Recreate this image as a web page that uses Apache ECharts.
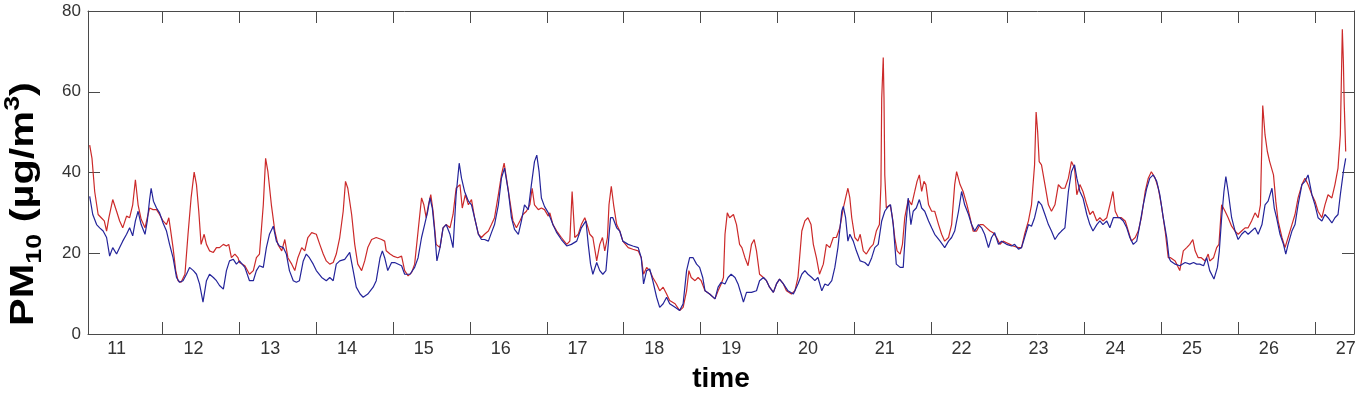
<!DOCTYPE html>
<html>
<head>
<meta charset="utf-8">
<title>PM10 time series</title>
<script src="https://cdn.jsdelivr.net/npm/echarts@6/dist/echarts.min.js"></script>
<style>
  html, body { margin: 0; padding: 0; background: #fff; }
  #chart { width: 1362px; height: 398px; }
</style>
</head>
<body>
<div id="chart"></div>
<script>
// x axis: day of month, labels on the day, tick marks a bit later in the day
var dayLabels = [11, 12, 13, 14, 15, 16, 17, 18, 19, 20, 21, 22, 23, 24, 25, 26, 27]
var dayTicks = [11.6, 12.6, 13.6, 14.6, 15.6, 16.6, 17.6, 18.6, 19.6, 20.6, 21.6, 22.6, 23.6, 24.6, 25.6, 26.6]
var pmTicks = [0, 20, 40, 60, 80]

// red series
var redTime = [
  10.65, 10.68, 10.715, 10.76, 10.80, 10.84, 10.87, 10.90, 10.95, 11.00, 11.04, 11.08, 11.13, 11.17, 11.21, 11.245, 11.28, 11.32, 11.37, 11.40, 11.43, 11.475, 11.52, 11.56, 11.605, 11.65, 11.68, 11.705, 11.735, 11.77, 11.80, 11.84, 11.89, 11.93, 11.97, 12.01, 12.04, 12.07, 12.10, 12.14, 12.17, 12.21, 12.26, 12.30, 12.34, 12.39, 12.43, 12.46, 12.495, 12.54, 12.58,
  12.60, 12.67, 12.73, 12.78, 12.82, 12.86, 12.91, 12.94, 12.97, 13.015, 13.06, 13.10, 13.15, 13.19, 13.23, 13.28, 13.32, 13.36, 13.41, 13.45, 13.49, 13.54, 13.60, 13.645, 13.69, 13.73, 13.775, 13.82, 13.86, 13.905, 13.95, 13.98, 14.01, 14.06, 14.10, 14.14, 14.19, 14.23, 14.27, 14.32, 14.38, 14.45, 14.49, 14.51, 14.56, 14.60,
  14.62, 14.66, 14.71, 14.75, 14.795, 14.84, 14.88, 14.925, 14.97, 15.00, 15.03, 15.06, 15.09, 15.12, 15.16, 15.21, 15.25, 15.29, 15.34, 15.38, 15.42, 15.47, 15.50, 15.54, 15.58, 15.62, 15.66, 15.71, 15.75, 15.79, 15.84, 15.88, 15.92, 15.97, 16.01, 16.045, 16.075, 16.12, 16.16, 16.205, 16.25, 16.29, 16.335, 16.38, 16.41, 16.44, 16.49, 16.53, 16.57, 16.62,
  16.64, 16.68, 16.73, 16.79, 16.86, 16.90, 16.93, 16.965, 17.01, 17.05, 17.095, 17.125, 17.16, 17.20, 17.25, 17.29, 17.325, 17.355, 17.39, 17.41, 17.44, 17.47, 17.51, 17.55, 17.59, 17.66, 17.72, 17.79, 17.83, 17.86, 17.90, 17.94, 17.98, 18.03, 18.07, 18.115, 18.16, 18.20, 18.27, 18.33, 18.375, 18.42, 18.45, 18.48, 18.53, 18.57, 18.61,
  18.66, 18.72, 18.79, 18.83, 18.87, 18.90, 18.92, 18.95, 18.98, 19.03, 19.07, 19.11, 19.14, 19.18, 19.22, 19.265, 19.30, 19.33, 19.37, 19.42, 19.46, 19.50, 19.55, 19.59, 19.63, 19.68, 19.72, 19.785, 19.83, 19.87, 19.92, 19.96, 20.00, 20.04, 20.07, 20.11, 20.15, 20.20, 20.24, 20.285, 20.33, 20.37, 20.415, 20.46, 20.50, 20.52, 20.545, 20.57, 20.61, 20.65,
  20.68, 20.72, 20.76, 20.81, 20.85, 20.89, 20.93, 20.95, 20.96, 20.98, 20.99, 21.00, 21.02, 21.07, 21.10, 21.13, 21.16, 21.20, 21.23, 21.26, 21.305, 21.35, 21.39, 21.42, 21.45, 21.48, 21.51, 21.535, 21.57, 21.61, 21.65, 21.70, 21.74, 21.78, 21.83, 21.87, 21.91, 21.935, 21.98, 22.02, 22.07, 22.11, 22.15, 22.195, 22.24, 22.28, 22.325, 22.37, 22.41, 22.455, 22.50, 22.54, 22.586, 22.63, 22.67,
  22.69, 22.74, 22.78, 22.82, 22.87, 22.91, 22.95, 22.97, 22.99, 23.01, 23.04, 23.085, 23.13, 23.17, 23.215, 23.26, 23.30, 23.345, 23.39, 23.43, 23.47, 23.50, 23.54, 23.58, 23.63, 23.67, 23.71, 23.76, 23.80, 23.84, 23.89, 23.93, 23.97, 24.00, 24.04, 24.08, 24.13, 24.17, 24.21, 24.26, 24.30, 24.34, 24.39, 24.43, 24.47, 24.52, 24.56, 24.60, 24.65, 24.69,
  24.72, 24.78, 24.84, 24.886, 24.93, 24.97, 25.01, 25.04, 25.08, 25.12, 25.17, 25.21, 25.23, 25.28, 25.32, 25.35, 25.385, 25.43, 25.47, 25.515, 25.56, 25.60, 25.645, 25.69, 25.73, 25.775, 25.82, 25.86, 25.89, 25.92, 25.95, 25.98, 26.01, 26.06, 26.09, 26.12, 26.17, 26.21, 26.25, 26.30, 26.34, 26.38, 26.43, 26.47, 26.51, 26.56, 26.60, 26.64, 26.69, 26.73, 26.77, 26.82, 26.86, 26.90, 26.93, 26.956, 26.97, 26.98, 27.00
]
var redPM10 = [
  46.8, 43.5, 35.3, 29.6, 28.8, 28.0, 25.5, 28.8, 33.3, 30.4, 28.0, 26.3, 29.2, 28.8, 32.0, 38.2, 32.0, 28.4, 26.3, 28.8, 31.2, 30.8, 30.8, 29.6, 28.0, 27.1, 28.8, 25.5, 21.4, 15.7, 13.2, 12.8, 14.8, 24.7, 33.7, 40.1, 37.0, 30.4, 22.2, 24.7, 22.2, 20.6, 20.2, 21.4, 21.4, 22.2, 21.8, 22.2, 18.9, 19.8, 18.9,
  17.7, 16.9, 14.8, 15.7, 18.9, 19.8, 32.0, 43.5, 40.2, 32.0, 25.5, 22.2, 20.6, 23.4, 18.9, 17.3, 15.7, 18.9, 21.4, 20.6, 23.9, 25.1, 24.7, 22.2, 19.8, 18.1, 17.3, 17.7, 19.8, 23.9, 30.4, 37.8, 36.1, 29.6, 22.2, 17.3, 15.7, 18.1, 21.4, 23.4, 23.9, 23.4, 23.0, 20.6, 19.8, 19.3,
  19.3, 18.9, 19.3, 15.7, 14.4, 15.2, 17.3, 25.5, 33.7, 32.0, 28.8, 32.0, 34.5, 30.4, 22.2, 21.4, 26.3, 27.1, 26.3, 29.6, 36.1, 37.0, 31.2, 34.5, 32.0, 33.3, 28.8, 24.7, 23.9, 24.7, 25.5, 27.1, 28.8, 34.5, 39.4, 42.3, 38.6, 32.9, 28.0, 26.3, 28.0, 29.6, 30.4, 32.0, 36.1, 32.0, 30.8, 31.2, 30.8, 29.2,
  30.0, 27.1, 25.5, 23.9, 22.2, 23.0, 35.3, 23.9, 24.7, 27.1, 28.8, 27.1, 24.7, 23.9, 18.1, 22.2, 23.9, 20.6, 23.9, 32.0, 36.6, 32.0, 27.1, 25.5, 23.0, 21.4, 21.0, 20.6, 18.9, 14.8, 16.5, 15.7, 14.0, 12.4, 10.7, 11.6, 9.9, 8.3, 7.5, 5.8, 6.6, 10.7, 15.7, 14.0, 13.2, 14.0, 13.2,
  10.7, 9.9, 8.7, 10.7, 12.4, 14.0, 24.7, 30.0, 28.8, 29.6, 27.1, 22.2, 21.4, 18.9, 16.9, 22.2, 23.4, 20.6, 14.8, 14.0, 13.2, 11.6, 10.3, 12.4, 13.6, 12.4, 10.7, 9.9, 10.7, 14.0, 25.5, 28.0, 28.8, 27.1, 22.2, 18.9, 14.8, 17.3, 22.2, 21.4, 23.9, 23.9, 26.3, 31.2, 34.5, 36.1, 33.7, 28.8, 23.9, 23.0,
  24.7, 20.6, 19.8, 21.4, 22.2, 25.5, 27.1, 37.0, 58.3, 68.5, 58.3, 39.4, 31.2, 32.0, 28.8, 23.9, 20.6, 19.8, 22.2, 28.8, 33.3, 32.0, 35.3, 37.8, 39.4, 35.3, 37.8, 37.0, 32.0, 30.4, 30.4, 27.1, 24.7, 23.0, 23.9, 27.1, 37.0, 40.2, 37.0, 35.3, 32.0, 28.8, 25.5, 25.5, 27.1, 27.1, 26.3, 25.5, 25.1, 23.9, 22.2, 23.0, 22.6, 22.2, 21.8,
  22.2, 21.4, 21.4, 24.7, 28.0, 32.0, 41.9, 55.0, 50.1, 42.7, 41.9, 37.0, 32.0, 30.4, 32.0, 37.0, 36.1, 36.1, 38.6, 42.7, 41.1, 34.5, 37.0, 35.3, 32.0, 29.6, 30.4, 28.0, 28.8, 28.0, 28.8, 32.0, 35.3, 30.4, 28.8, 28.8, 28.0, 25.5, 23.0, 23.9, 25.5, 28.8, 35.3, 38.6, 40.2, 38.6, 36.1, 32.0, 25.5, 18.9,
  18.9, 18.1, 15.7, 20.6, 21.4, 22.2, 23.4, 20.6, 18.9, 18.9, 18.1, 19.8, 18.1, 18.9, 21.4, 22.2, 32.0, 30.4, 28.8, 26.7, 25.5, 24.7, 25.5, 26.3, 26.3, 28.0, 30.0, 28.8, 32.0, 56.6, 49.3, 45.2, 42.7, 39.4, 32.9, 28.0, 23.9, 21.4, 23.9, 27.1, 29.6, 33.7, 37.0, 38.6, 37.0, 34.5, 32.9, 30.4, 28.8, 32.0, 34.5, 33.7, 37.0, 41.1, 49.3, 75.5, 67.3, 57.5, 45.2
]

// blue series
var blueTime = [
  10.65, 10.69, 10.74, 10.78, 10.825, 10.87, 10.91, 10.95, 11.00, 11.04, 11.08, 11.13, 11.17, 11.21, 11.245, 11.28, 11.32, 11.37, 11.40, 11.43, 11.45, 11.48, 11.52, 11.56, 11.605, 11.65, 11.69, 11.735, 11.78, 11.82, 11.865, 11.91, 11.95, 12.00, 12.04, 12.08, 12.125, 12.17, 12.21, 12.26, 12.30, 12.34, 12.39, 12.43, 12.47, 12.52, 12.56,
  12.60, 12.67, 12.73, 12.78, 12.82, 12.86, 12.91, 12.95, 12.99, 13.04, 13.08, 13.12, 13.17, 13.21, 13.25, 13.30, 13.34, 13.38, 13.43, 13.47, 13.51, 13.56, 13.60, 13.67, 13.73, 13.775, 13.82, 13.86, 13.905, 13.97, 14.035, 14.08, 14.12, 14.17, 14.21, 14.27, 14.34, 14.38, 14.43, 14.46, 14.49, 14.53, 14.58,
  14.62, 14.71, 14.75, 14.82, 14.88, 14.925, 14.97, 15.01, 15.05, 15.08, 15.11, 15.14, 15.17, 15.21, 15.25, 15.29, 15.34, 15.38, 15.42, 15.46, 15.49, 15.53, 15.58, 15.62, 15.66, 15.71, 15.75, 15.79, 15.84, 15.88, 15.92, 15.97, 16.01, 16.05, 16.10, 16.14, 16.18, 16.23, 16.27, 16.31, 16.36, 16.40, 16.44, 16.47, 16.50, 16.53, 16.57, 16.62,
  16.64, 16.68, 16.73, 16.79, 16.86, 16.92, 16.99, 17.05, 17.11, 17.14, 17.17, 17.20, 17.25, 17.29, 17.33, 17.37, 17.40, 17.43, 17.46, 17.51, 17.55, 17.59, 17.66, 17.72, 17.79, 17.83, 17.86, 17.90, 17.94, 17.98, 18.03, 18.07, 18.115, 18.16, 18.20, 18.27, 18.33, 18.375, 18.42, 18.46, 18.505, 18.55, 18.59, 18.63,
  18.66, 18.72, 18.79, 18.83, 18.87, 18.92, 18.96, 19.00, 19.05, 19.09, 19.13, 19.16, 19.20, 19.265, 19.33, 19.37, 19.42, 19.46, 19.50, 19.55, 19.59, 19.63, 19.68, 19.74, 19.81, 19.87, 19.92, 19.96, 20.00, 20.05, 20.09, 20.13, 20.18, 20.22, 20.26, 20.31, 20.35, 20.39, 20.44, 20.46, 20.49, 20.52, 20.545, 20.59, 20.63,
  20.68, 20.74, 20.785, 20.83, 20.87, 20.915, 20.96, 21.00, 21.045, 21.075, 21.11, 21.15, 21.20, 21.24, 21.275, 21.305, 21.34, 21.37, 21.41, 21.45, 21.48, 21.52, 21.57, 21.61, 21.65, 21.72, 21.78, 21.83, 21.87, 21.91, 21.96, 22.00, 22.04, 22.09, 22.13, 22.17, 22.22, 22.26, 22.30, 22.35, 22.39, 22.43, 22.48, 22.52, 22.586, 22.65,
  22.69, 22.74, 22.78, 22.82, 22.87, 22.91, 22.95, 23.00, 23.04, 23.085, 23.13, 23.17, 23.215, 23.26, 23.30, 23.345, 23.39, 23.43, 23.47, 23.50, 23.54, 23.58, 23.63, 23.67, 23.71, 23.76, 23.80, 23.84, 23.89, 23.93, 23.975, 24.02, 24.06, 24.105, 24.15, 24.19, 24.235, 24.28, 24.32, 24.365, 24.41, 24.45, 24.495, 24.54, 24.58, 24.625, 24.67, 24.70,
  24.72, 24.78, 24.84, 24.91, 24.97, 25.02, 25.06, 25.10, 25.15, 25.19, 25.23, 25.285, 25.33, 25.355, 25.385, 25.415, 25.44, 25.47, 25.515, 25.56, 25.60, 25.645, 25.69, 25.73, 25.775, 25.82, 25.86, 25.91, 25.95, 25.99, 26.04, 26.07, 26.10, 26.145, 26.19, 26.22, 26.25, 26.30, 26.34, 26.38, 26.43, 26.47, 26.51, 26.56, 26.60, 26.64, 26.69, 26.73, 26.77, 26.82, 26.86, 26.90, 26.93, 26.97, 27.00
]
var bluePM10 = [
  34.1, 29.6, 27.1, 26.3, 25.5, 23.9, 19.3, 21.4, 19.8, 21.4, 23.0, 24.7, 26.3, 24.3, 28.0, 30.4, 27.1, 24.7, 28.0, 33.3, 36.1, 32.9, 31.2, 30.0, 27.5, 25.5, 22.2, 18.9, 14.0, 12.8, 13.2, 14.8, 16.5, 15.7, 14.8, 12.4, 7.9, 13.2, 14.8, 14.0, 13.2, 12.0, 11.1, 15.7, 18.1, 18.5, 17.3,
  18.1, 16.5, 13.2, 13.2, 15.7, 16.9, 16.5, 21.4, 24.7, 26.7, 23.0, 21.8, 21.4, 19.8, 15.7, 13.2, 12.8, 13.2, 18.1, 19.8, 18.9, 17.3, 15.7, 14.0, 13.2, 14.0, 13.2, 17.3, 18.1, 18.5, 20.2, 15.7, 11.6, 9.9, 9.1, 9.9, 11.6, 13.2, 18.9, 20.6, 18.9, 15.7, 17.7,
  17.7, 16.9, 14.8, 14.8, 16.5, 18.9, 23.9, 27.1, 30.4, 33.7, 31.2, 25.5, 18.1, 21.4, 26.3, 27.1, 24.7, 21.4, 34.5, 42.3, 38.6, 35.3, 32.9, 32.0, 28.8, 24.7, 23.4, 23.4, 23.0, 25.1, 27.1, 32.0, 38.6, 41.1, 35.3, 28.8, 25.9, 24.7, 28.0, 32.0, 30.8, 37.0, 42.7, 44.3, 40.2, 33.7, 31.6, 30.0,
  30.0, 27.1, 25.1, 23.4, 21.8, 22.2, 23.0, 26.3, 28.0, 22.2, 17.3, 14.8, 17.7, 15.7, 14.8, 15.7, 22.2, 28.8, 28.8, 26.3, 25.5, 23.0, 22.2, 21.8, 21.4, 18.9, 12.4, 15.7, 16.1, 13.2, 9.1, 6.6, 7.5, 9.1, 7.5, 6.6, 5.8, 7.5, 15.7, 18.9, 18.9, 17.3, 16.5, 14.0,
  10.7, 9.9, 8.7, 11.6, 12.8, 12.4, 14.0, 14.8, 14.0, 12.4, 9.9, 7.9, 10.3, 10.3, 10.7, 13.2, 14.0, 13.2, 11.6, 10.3, 12.4, 13.6, 12.4, 10.7, 9.9, 12.4, 14.8, 15.7, 14.8, 14.0, 13.2, 14.0, 10.7, 12.4, 12.0, 13.2, 16.5, 21.4, 30.4, 31.6, 28.8, 23.0, 24.7, 23.0, 20.6,
  18.1, 17.7, 16.9, 18.9, 21.4, 22.2, 28.0, 30.4, 31.6, 32.0, 27.1, 17.3, 16.5, 16.5, 27.1, 33.7, 27.1, 30.4, 31.2, 33.3, 31.2, 30.4, 28.0, 26.3, 24.7, 23.0, 21.4, 23.0, 23.9, 25.5, 30.4, 35.3, 32.0, 29.6, 27.1, 25.5, 27.1, 26.3, 24.7, 21.4, 23.9, 25.1, 22.2, 23.0, 22.2, 21.8,
  22.2, 21.0, 21.4, 23.9, 27.1, 26.7, 28.8, 32.9, 32.0, 29.6, 27.1, 25.5, 23.4, 24.7, 25.5, 26.3, 35.3, 40.2, 41.9, 38.6, 35.3, 33.7, 29.6, 27.1, 25.5, 27.1, 28.0, 27.1, 28.0, 26.3, 28.8, 28.8, 28.8, 28.0, 26.3, 23.9, 22.2, 23.0, 27.1, 32.0, 36.1, 38.6, 39.4, 37.8, 34.5, 28.8, 23.9, 18.9,
  18.1, 17.3, 16.9, 17.7, 17.3, 17.7, 17.3, 17.3, 16.9, 18.9, 15.7, 13.6, 16.5, 20.6, 28.8, 35.3, 39.0, 35.3, 28.8, 25.5, 23.4, 24.7, 25.5, 24.7, 25.5, 26.3, 24.7, 27.1, 32.0, 32.9, 36.1, 31.2, 28.8, 24.7, 22.2, 19.8, 22.2, 25.5, 27.1, 32.0, 37.0, 37.8, 39.4, 34.5, 32.0, 28.8, 28.0, 29.6, 28.8, 27.5, 28.8, 29.6, 34.5, 40.2, 43.5
]

var font = "'Liberation Sans', Arial, Helvetica, sans-serif"
var axisColor = '#4a4a4a'

function pairs(t, v) {
  return t.map(function (x, i) { return [x, v[i]] })
}

var chart = echarts.init(document.getElementById('chart'), null, { renderer: 'canvas' })

var xBase = {
  type: 'value',
  min: 10.628,
  max: 27.108,
  axisLine: { show: true, onZero: false, lineStyle: { color: axisColor, width: 1 } },
  axisTick: { show: true, inside: true, length: 12, customValues: dayTicks, lineStyle: { color: axisColor } },
  splitLine: { show: false }
}
var yBase = {
  type: 'value',
  min: 0,
  max: 80,
  interval: 20,
  axisLine: { show: true, onZero: false, lineStyle: { color: axisColor, width: 1 } },
  axisTick: { show: true, inside: true, length: 12, lineStyle: { color: axisColor } },
  splitLine: { show: false }
}

chart.setOption({
  animation: false,
  backgroundColor: '#fff',
  grid: { left: 88, right: 8, top: 11, bottom: 61, containLabel: false },
  xAxis: [
    Object.assign({}, xBase, {
      position: 'bottom',
      axisLabel: { customValues: dayLabels, margin: 6, fontSize: 18, color: '#333', fontFamily: font },
      name: 'time',
      nameLocation: 'middle',
      nameGap: 31,
      nameTextStyle: { fontSize: 28, fontWeight: 'bold', color: '#000', fontFamily: font }
    }),
    Object.assign({}, xBase, { position: 'top', axisLabel: { show: false } })
  ],
  yAxis: [
    Object.assign({}, yBase, {
      position: 'left',
      axisLabel: { customValues: pmTicks, margin: 7, fontSize: 17, color: '#333', fontFamily: font }
    }),
    Object.assign({}, yBase, { position: 'right', axisLabel: { show: false } })
  ],
  graphic: [
    {
      // y axis title, stretched along its length like the source picture
      type: 'text',
      x: 24,
      y: 204,
      rotation: Math.PI / 2,
      scaleX: 1.22,
      style: {
        text: '{m|PM}{s|10}{m| (µg/m}{p|3}{m|)}',
        align: 'center',
        verticalAlign: 'middle',
        rich: {
          m: { fontSize: 34, fontWeight: 'bold', fontFamily: font, fill: '#000', lineHeight: 44 },
          s: { fontSize: 22, fontWeight: 'bold', fontFamily: font, fill: '#000', lineHeight: 22, verticalAlign: 'bottom' },
          p: { fontSize: 22, fontWeight: 'bold', fontFamily: font, fill: '#000', lineHeight: 30, verticalAlign: 'top' }
        }
      }
    }
  ],
  series: [
    {
      name: 'red',
      type: 'line',
      data: pairs(redTime, redPM10),
      showSymbol: false,
      symbol: 'none',
      lineStyle: { color: '#cc2a2a', width: 1.2 },
      itemStyle: { color: '#cc2a2a' },
      z: 2
    },
    {
      name: 'blue',
      type: 'line',
      data: pairs(blueTime, bluePM10),
      showSymbol: false,
      symbol: 'none',
      lineStyle: { color: '#24249a', width: 1.2 },
      itemStyle: { color: '#24249a' },
      z: 3
    }
  ]
})
</script>
</body>
</html>
